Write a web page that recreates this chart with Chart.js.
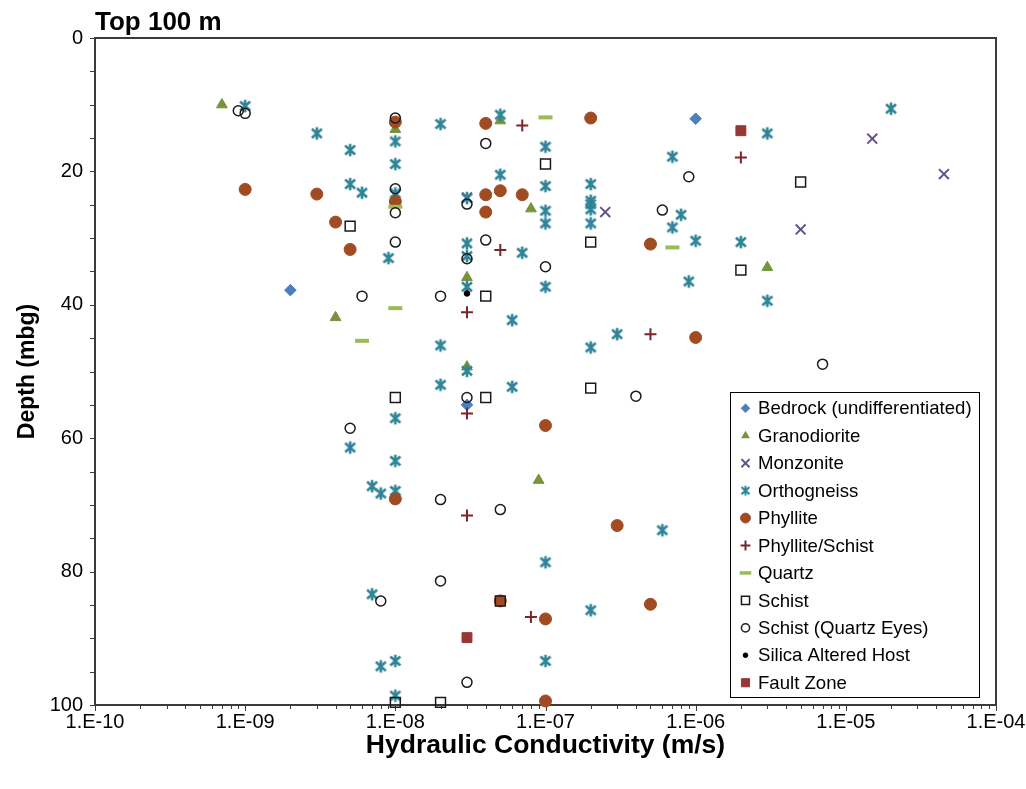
<!DOCTYPE html>
<html>
<head>
<meta charset="utf-8">
<script src="https://cdn.jsdelivr.net/npm/chart.js@4/dist/chart.umd.min.js"></script>
<style>
html,body{margin:0;padding:0;background:#fff;}
#wrap{position:relative;width:1026px;height:789px;}
</style>
</head>
<body>
<div id="wrap"><canvas id="c" width="1026" height="789"></canvas></div>
<script>
// ---------- DATA ----------
const chartTitle = 'Top 100 m';
const xTitle = 'Hydraulic Conductivity (m/s)';
const yTitle = 'Depth (mbg)';
const seriesNames = ['Bedrock (undifferentiated)','Granodiorite','Monzonite','Orthogneiss','Phyllite','Phyllite/Schist','Quartz','Schist','Schist (Quartz Eyes)','Silica Altered Host','Fault Zone'];
const yTickValues = [0,20,40,60,80,100];
const xTickExponents = [-10,-9,-8,-7,-6,-5,-4];

const bedrockK     = [2e-9, 1e-6, 3e-8];
const bedrockDepth = [37.8, 12.1, 55.0];

const granodioriteK     = [7e-10, 1e-8, 5e-8, 8e-8, 3e-8, 4e-9, 3e-8, 3e-6, 9e-8];
const granodioriteDepth = [10.0, 13.7, 12.4, 25.6, 35.9, 41.9, 49.3, 34.4, 66.3];

const monzoniteK     = [3e-8, 2.5e-7, 1.5e-5, 4.5e-5, 5e-6];
const monzoniteDepth = [23.9, 26.1, 15.1, 20.4, 28.7];

const orthogneissK = [1e-9, 3e-9, 5e-9, 5e-9, 6e-9,
  1e-8, 1e-8, 1e-8, 1e-8, 1e-8, 1e-8, 1e-8, 1e-8,
  9e-9, 2e-8, 2e-8, 2e-8,
  3e-8, 3e-8, 3e-8, 3e-8, 3e-8,
  5e-8, 5e-8, 6e-8, 6e-8, 7e-8,
  1e-7, 1e-7, 1e-7, 1e-7, 1e-7, 1e-7, 1e-7,
  2e-7, 2e-7, 2e-7, 2e-7, 2e-7, 2e-7, 2e-7,
  3e-7, 6e-7, 7e-7, 8e-7, 7e-7, 9e-7,
  1e-6, 2e-6, 3e-6, 3e-6, 2e-5,
  5e-9, 7e-9, 8e-9, 7e-9, 8e-9];
const orthogneissDepth = [10.2, 14.3, 16.8, 21.9, 23.2,
  15.5, 18.9, 23.3, 57.0, 63.4, 67.9, 93.4, 98.6,
  33.0, 12.9, 46.1, 52.0,
  24.0, 30.8, 32.7, 37.3, 49.9,
  11.5, 20.5, 42.3, 52.3, 32.2,
  16.3, 22.2, 25.9, 27.8, 37.3, 78.6, 93.4,
  21.9, 24.4, 24.9, 25.7, 27.8, 46.4, 85.8,
  44.4, 73.8, 17.8, 26.5, 28.4, 36.5,
  30.4, 30.6, 14.3, 39.4, 10.6,
  61.4, 67.2, 68.3, 83.4, 94.2];

const phylliteK = [1e-9, 3e-9, 4e-9, 5e-9, 1e-8, 1e-8, 1e-8,
  4e-8, 4e-8, 5e-8, 7e-8, 4e-8,
  2e-7, 5e-7, 1e-6, 1e-7, 3e-7, 5e-7, 1e-7, 1e-7, 5e-8];
const phylliteDepth = [22.7, 23.4, 27.6, 31.7, 12.6, 24.5, 69.1,
  12.8, 23.5, 22.9, 23.5, 26.1,
  12.0, 30.9, 44.9, 58.1, 73.1, 84.9, 87.1, 99.4, 84.4];

const phylliteSchistK     = [7e-8, 2e-6, 5e-8, 3e-8, 5e-7, 3e-8, 3e-8, 8e-8];
const phylliteSchistDepth = [13.1, 17.9, 31.8, 41.1, 44.4, 56.3, 71.6, 86.8];

const quartzK     = [1e-7, 1e-8, 7e-7, 1e-8, 6e-9];
const quartzDepth = [11.9, 25.3, 31.4, 40.5, 45.4];

const schistK     = [1e-7, 5e-9, 2e-7, 2e-6, 5e-6, 4e-8, 1e-8, 4e-8, 2e-7, 5e-8, 1e-8, 2e-8];
const schistDepth = [18.9, 28.2, 30.6, 34.8, 21.6, 38.7, 53.9, 53.9, 52.5, 84.4, 99.6, 99.6];

const schistQEK = [9e-10, 1e-9, 1e-8, 4e-8, 9e-7, 1e-8, 3e-8, 1e-8, 6e-7, 1e-8, 4e-8, 3e-8,
  1e-7, 6e-9, 2e-8, 7e-6, 3e-8, 4e-7, 5e-9, 2e-8, 5e-8, 2e-8, 8e-9, 3e-8];
const schistQEDepth = [10.9, 11.3, 12.0, 15.8, 20.8, 22.6, 24.9, 26.2, 25.8, 30.6, 30.3, 33.1,
  34.3, 38.7, 38.7, 48.9, 53.9, 53.7, 58.5, 69.2, 70.7, 81.4, 84.4, 96.6];

const silicaK     = [3e-8];
const silicaDepth = [38.3];

const faultK     = [2e-6, 3e-8];
const faultDepth = [13.9, 89.9];

// ---------- STYLES ----------
const FONT = "'Liberation Sans', Arial, sans-serif";
const axisColor = '#3a3a3a';

function makeStar(color) {
  const c = document.createElement('canvas');
  c.width = 16; c.height = 16;
  const g = c.getContext('2d');
  g.strokeStyle = color; g.lineWidth = 2.6; g.lineCap = 'butt';
  const m = 8;
  g.beginPath();
  g.moveTo(m - 5, m - 4.5); g.lineTo(m + 5, m + 4.5);
  g.moveTo(m + 5, m - 4.5); g.lineTo(m - 5, m + 4.5);
  g.moveTo(m, m - 6.2); g.lineTo(m, m + 6.2);
  g.stroke();
  return c;
}
const starImg = makeStar('#2f8597');

const styles = [
  {pointStyle:'rectRot', radius:5.8, bg:'#4a7fc1', border:'#4a7fc1', bw:1},
  {pointStyle:'triangle', radius:6.2, bg:'#77933c', border:'#77933c', bw:1},
  {pointStyle:'crossRot', radius:7, bg:'#65508a', border:'#65508a', bw:2},
  {pointStyle:starImg, radius:7, bg:'#2f8597', border:'#2f8597', bw:1},
  {pointStyle:'circle', radius:6, bg:'#a04b22', border:'#a04b22', bw:1},
  {pointStyle:'cross', radius:6, bg:'#7a2626', border:'#7a2626', bw:2},
  {pointStyle:'line', radius:7, bg:'#9bbb59', border:'#9bbb59', bw:4},
  {pointStyle:'rect', radius:7, bg:'rgba(0,0,0,0)', border:'#1a1a1a', bw:1.5},
  {pointStyle:'circle', radius:5, bg:'rgba(0,0,0,0)', border:'#1a1a1a', bw:1.5},
  {pointStyle:'circle', radius:2.8, bg:'#000000', border:'#000000', bw:1},
  {pointStyle:'rect', radius:7, bg:'#953735', border:'#953735', bw:1}
];

const seriesK = [bedrockK, granodioriteK, monzoniteK, orthogneissK, phylliteK, phylliteSchistK, quartzK, schistK, schistQEK, silicaK, faultK];
const seriesD = [bedrockDepth, granodioriteDepth, monzoniteDepth, orthogneissDepth, phylliteDepth, phylliteSchistDepth, quartzDepth, schistDepth, schistQEDepth, silicaDepth, faultDepth];

const datasets = seriesNames.map((name, i) => ({
  label: name,
  data: seriesK[i].map((k, j) => ({x: k, y: seriesD[i][j]})),
  pointStyle: styles[i].pointStyle,
  pointRadius: styles[i].radius,
  pointHoverRadius: styles[i].radius,
  backgroundColor: styles[i].bg,
  borderColor: styles[i].border,
  pointBorderWidth: styles[i].bw,
  borderWidth: styles[i].bw,
  showLine: false,
  clip: false,
  order: seriesNames.length - i
}));

// ---------- LEGEND MARKER DRAWING ----------
function drawLegendMarker(ctx, i, x, y) {
  const s = styles[i];
  const r = s.radius * 0.82;
  ctx.save();
  ctx.fillStyle = s.bg; ctx.strokeStyle = s.border; ctx.lineWidth = s.bw;
  ctx.beginPath();
  if (s.pointStyle === 'rectRot') {
    ctx.moveTo(x, y - r); ctx.lineTo(x + r, y); ctx.lineTo(x, y + r); ctx.lineTo(x - r, y); ctx.closePath();
    ctx.fill();
  } else if (s.pointStyle === 'triangle') {
    ctx.moveTo(x, y - r); ctx.lineTo(x + r * 0.866, y + r * 0.5); ctx.lineTo(x - r * 0.866, y + r * 0.5); ctx.closePath();
    ctx.fill();
  } else if (s.pointStyle === 'crossRot') {
    const d = r * 0.707;
    ctx.moveTo(x - d, y - d); ctx.lineTo(x + d, y + d); ctx.moveTo(x + d, y - d); ctx.lineTo(x - d, y + d);
    ctx.stroke();
  } else if (s.pointStyle === 'cross') {
    ctx.moveTo(x - r, y); ctx.lineTo(x + r, y); ctx.moveTo(x, y - r); ctx.lineTo(x, y + r);
    ctx.stroke();
  } else if (s.pointStyle === 'line') {
    ctx.lineWidth = 3.5;
    ctx.moveTo(x - r, y); ctx.lineTo(x + r, y); ctx.stroke();
  } else if (s.pointStyle === 'rect') {
    const h = r * 0.707;
    ctx.rect(x - h, y - h, 2 * h, 2 * h);
    ctx.fill(); ctx.stroke();
  } else if (s.pointStyle === 'circle') {
    ctx.arc(x, y, r, 0, Math.PI * 2);
    ctx.fill(); ctx.stroke();
  } else {
    ctx.drawImage(s.pointStyle, x - s.pointStyle.width * 0.4, y - s.pointStyle.height * 0.4, s.pointStyle.width * 0.8, s.pointStyle.height * 0.8);
  }
  ctx.restore();
}

// ---------- PLUGIN ----------
const decor = {
  id: 'decor',
  beforeDatasetsDraw(chart) {
    const {ctx, chartArea: a, scales: {x, y}} = chart;
    ctx.save();
    ctx.strokeStyle = axisColor;
    ctx.lineWidth = 1;
    x.ticks.forEach(t => {
      const px = Math.round(x.getPixelForValue(t.value)) + 0.5;
      const major = t.label && t.label !== '';
      ctx.beginPath();
      ctx.moveTo(px, a.bottom); ctx.lineTo(px, a.bottom + (major ? 6 : 4));
      ctx.stroke();
    });
    y.ticks.forEach(t => {
      const py = Math.round(y.getPixelForValue(t.value)) + 0.5;
      ctx.beginPath();
      ctx.moveTo(a.left - 5, py); ctx.lineTo(a.left, py);
      ctx.stroke();
    });
    ctx.lineWidth = 2;
    ctx.strokeRect(a.left, a.top, a.right - a.left, a.bottom - a.top);
    ctx.restore();
  },
  afterDraw(chart) {
    const {ctx, chartArea: a} = chart;
    ctx.save();
    ctx.fillStyle = '#000';
    ctx.font = "bold 26px " + FONT;
    ctx.textBaseline = 'alphabetic';
    ctx.textAlign = 'left';
    ctx.fillText(chartTitle, a.left, 30);
    const L = 730, T = 392, R = 979, B = 697;
    ctx.fillStyle = '#fff';
    ctx.fillRect(L, T, R - L, B - T);
    ctx.strokeStyle = '#000'; ctx.lineWidth = 1;
    ctx.strokeRect(L + 0.5, T + 0.5, R - L, B - T);
    ctx.font = "18.6px " + FONT;
    ctx.textBaseline = 'middle';
    seriesNames.forEach((n, i) => {
      const yy = 408.3 + i * 27.44;
      drawLegendMarker(ctx, i, 745.5, yy);
      ctx.fillStyle = '#000';
      ctx.fillText(n, 758, yy + 1);
    });
    ctx.restore();
  }
};

function fmtX(v) {
  const e = Math.round(Math.log10(v));
  if (Math.abs(v / Math.pow(10, e) - 1) < 1e-6) {
    return '1.E-' + String(-e).padStart(2, '0');
  }
  return '';
}

new Chart(document.getElementById('c'), {
  type: 'scatter',
  data: {datasets},
  plugins: [decor],
  options: {
    responsive: false,
    animation: false,
    events: [],
    devicePixelRatio: 1,
    layout: {padding: {left: 0, top: 38, right: 30, bottom: 0}},
    plugins: {legend: {display: false}, tooltip: {enabled: false}, title: {display: false}},
    scales: {
      x: {
        type: 'logarithmic',
        min: Math.pow(10, xTickExponents[0]),
        max: Math.pow(10, xTickExponents[xTickExponents.length - 1]),
        afterBuildTicks(s) {
          const t = [];
          for (let k = 0; k < xTickExponents.length - 1; k++) {
            for (let m = 1; m < 10; m++) t.push({value: m * Math.pow(10, xTickExponents[k])});
          }
          t.push({value: Math.pow(10, xTickExponents[xTickExponents.length - 1])});
          s.ticks = t;
        },
        afterFit(s) { s.height = 84; s.paddingLeft = 0; s.paddingRight = 0; },
        grid: {display: false, drawTicks: false},
        border: {display: false},
        ticks: {
          callback: (v) => fmtX(v),
          autoSkip: false, maxRotation: 0, minRotation: 0,
          padding: 5,
          color: '#000',
          font: {family: FONT, size: 20}
        },
        title: {display: true, text: xTitle, color: '#000', font: {family: FONT, size: 26.5, weight: 'bold'}, padding: {top: 0, bottom: 27}}
      },
      y: {
        type: 'linear',
        reverse: true,
        min: 0, max: 100,
        afterFit(s) { s.width = 95; s.paddingTop = 0; s.paddingBottom = 0; },
        grid: {display: false, drawTicks: false},
        border: {display: false},
        ticks: {
          stepSize: 5,
          autoSkip: false,
          callback: (v) => yTickValues.includes(v) ? String(v) : '',
          padding: 12,
          color: '#000',
          font: {family: FONT, size: 20}
        },
        title: {display: true, text: yTitle, color: '#000', font: {family: FONT, size: 23, weight: 'bold'}, padding: {top: 14, bottom: 0}}
      }
    }
  }
});
</script>
</body>
</html>
